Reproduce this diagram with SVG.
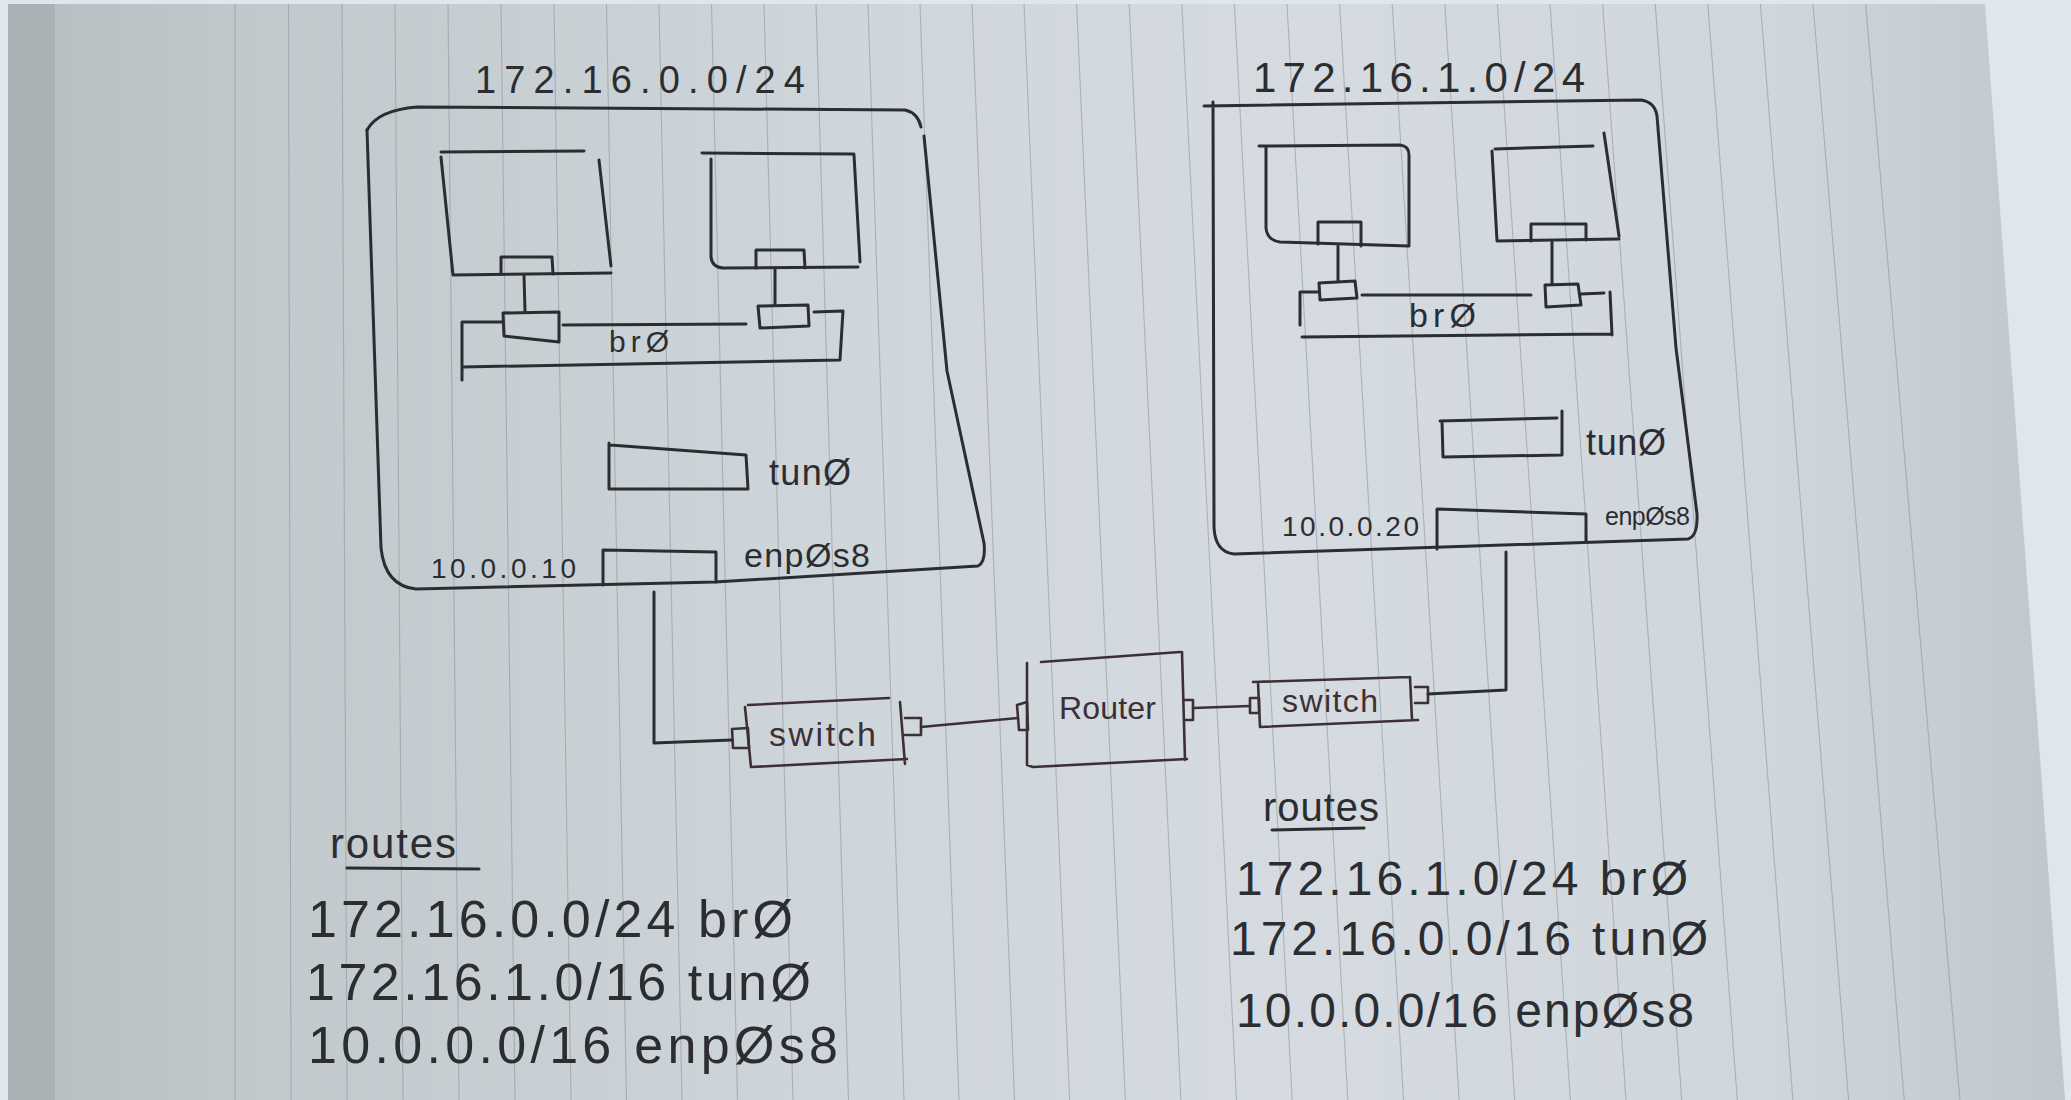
<svg xmlns="http://www.w3.org/2000/svg" width="2071" height="1100" viewBox="0 0 2071 1100">
<defs>
<linearGradient id="paper" gradientUnits="userSpaceOnUse" x1="8" y1="0" x2="2065" y2="0">
<stop offset="0" stop-color="#b6bec1"/>
<stop offset="0.12" stop-color="#c1c9cd"/>
<stop offset="0.4" stop-color="#cfd6db"/>
<stop offset="0.62" stop-color="#d5dbe1"/>
<stop offset="0.86" stop-color="#cfd6dc"/>
<stop offset="1" stop-color="#bfc6cc"/>
</linearGradient>
<style>
.ink{fill:none;stroke:#2c2d31;stroke-width:3;stroke-linecap:round;stroke-linejoin:round}
.red{fill:none;stroke:#3d3034;stroke-width:2.6;stroke-linecap:round;stroke-linejoin:round}
.rule{stroke:#8f989e;stroke-width:1.1;opacity:0.6}
.t{font-family:"Liberation Sans","DejaVu Sans",sans-serif;fill:#2c2d31}
.tr{font-family:"Liberation Sans","DejaVu Sans",sans-serif;fill:#3d3034}
</style>
</defs>
<!-- background -->
<rect x="0" y="0" width="2071" height="1100" fill="#e0e6ee"/>
<polygon points="8,4 1985,4 2065,1100 8,1100" fill="url(#paper)"/>
<rect x="8" y="4" width="47" height="1096" fill="#aab2b5"/>
<g id="rules">
<line class="rule" x1="235" y1="4" x2="235" y2="1100"/>
<line class="rule" x1="288.5" y1="4" x2="291" y2="1100"/>
<line class="rule" x1="342" y1="4" x2="347" y2="1100"/>
<line class="rule" x1="395" y1="4" x2="403" y2="1100"/>
<line class="rule" x1="448" y1="4" x2="459" y2="1100"/>
<line class="rule" x1="501" y1="4" x2="515" y2="1100"/>
<line class="rule" x1="554" y1="4" x2="571" y2="1100"/>
<line class="rule" x1="606.5" y1="4" x2="626.5" y2="1100"/>
<line class="rule" x1="659" y1="4" x2="682" y2="1100"/>
<line class="rule" x1="711.5" y1="4" x2="737.5" y2="1100"/>
<line class="rule" x1="764" y1="4" x2="793" y2="1100"/>
<line class="rule" x1="816" y1="4" x2="848.5" y2="1100"/>
<line class="rule" x1="868" y1="4" x2="904" y2="1100"/>
<line class="rule" x1="920" y1="4" x2="959" y2="1100"/>
<line class="rule" x1="972" y1="4" x2="1014.5" y2="1100"/>
<line class="rule" x1="1024" y1="4" x2="1069.6" y2="1100"/>
<line class="rule" x1="1076.6" y1="4" x2="1125.3" y2="1100"/>
<line class="rule" x1="1129.2" y1="4" x2="1180.9" y2="1100"/>
<line class="rule" x1="1181.8" y1="4" x2="1236.5" y2="1100"/>
<line class="rule" x1="1234.4" y1="4" x2="1292.2" y2="1100"/>
<line class="rule" x1="1287" y1="4" x2="1347.8" y2="1100"/>
<line class="rule" x1="1339.6" y1="4" x2="1403.5" y2="1100"/>
<line class="rule" x1="1392.2" y1="4" x2="1459.1" y2="1100"/>
<line class="rule" x1="1444.8" y1="4" x2="1514.7" y2="1100"/>
<line class="rule" x1="1497.4" y1="4" x2="1570.4" y2="1100"/>
<line class="rule" x1="1550" y1="4" x2="1626" y2="1100"/>
<line class="rule" x1="1602.6" y1="4" x2="1681.7" y2="1100"/>
<line class="rule" x1="1655.2" y1="4" x2="1737.3" y2="1100"/>
<line class="rule" x1="1707.8" y1="4" x2="1792.9" y2="1100"/>
<line class="rule" x1="1760.4" y1="4" x2="1848.6" y2="1100"/>
<line class="rule" x1="1813" y1="4" x2="1904.2" y2="1100"/>
<line class="rule" x1="1865.6" y1="4" x2="1959.9" y2="1100"/>
</g>

<!-- Host 1 -->
<g id="host1">
<text class="t" x="475" y="93" font-size="38" textLength="330" lengthAdjust="spacing">172.16.0.0/24</text>
<path class="ink" d="M367,130 Q378,110 417,107 L905,110 Q918,113 921,127"/>
<path class="ink" d="M924,136 L947,371 L984,543 Q986,562 978,566 L715,582 L416,589 Q385,586 381,548 L367,130"/>
</g>
<g id="host1-vm1">
<path class="ink" d="M441,152 L584,151 M599,160 L611,266 M441,157 L453,275 L611,273"/>
<path class="ink" d="M501,274 L501,257 L552,257 L553,274"/>
</g>
<g id="host1-vm2">
<path class="ink" d="M702,153 L854,154 M854,155 L860,262 M711,159 L711,257 Q712,267 723,268 L858,267"/>
<path class="ink" d="M756,268 L756,250 L804,250 L805,268"/>
</g>
<g id="host1-br0">
<path class="ink" d="M462,380 L462,322 L503,322 M563,325 L746,324 M814,312 L843,311 L840,360 M462,367 L840,360"/>
<path class="ink" d="M503,313 L559,312 L559,342 L504,336 Z"/>
<path class="ink" d="M758,306 L808,305 L809,326 L760,328 Z"/>
<text class="t" x="609" y="352" font-size="30" textLength="60" lengthAdjust="spacing">brØ</text>
</g>
<g id="host1-tun0">
<path class="ink" d="M609,443 L609,489 L748,489 M610,445 L746,455 L748,489"/>
<text class="t" x="769" y="485" font-size="36" textLength="82" lengthAdjust="spacing">tunØ</text>
</g>
<g id="host1-enp0s8">
<path class="ink" d="M603,585 L603,550 L716,552 L716,582"/>
<text class="t" x="744" y="567" font-size="34" textLength="126" lengthAdjust="spacing">enpØs8</text>
<text class="t" x="431" y="578" font-size="28" textLength="145" lengthAdjust="spacing">10.0.0.10</text>
</g>

<!-- Host 2 -->
<g id="host2">
<text class="t" x="1253" y="92" font-size="42" textLength="332" lengthAdjust="spacing">172.16.1.0/24</text>
<path class="ink" d="M1204,106 L1641,100 Q1655,102 1657,116 L1676,348 L1697,514 Q1698,536 1688,539 L1234,554 Q1215,552 1214,527 L1213,102"/>
</g>
<g id="host2-vm1">
<path class="ink" d="M1259,146 L1400,145 Q1409,146 1409,155 L1409,246 L1280,242 Q1267,240 1266,228 L1266,148"/>
<path class="ink" d="M1318,244 L1318,222 L1361,222 L1361,246"/>
</g>
<g id="host2-vm2">
<path class="ink" d="M1495,149 L1593,146 M1604,133 L1619,236 M1492,151 L1497,241 L1619,239"/>
<path class="ink" d="M1531,241 L1531,224 L1586,224 L1586,240"/>
</g>
<g id="host2-br0">
<path class="ink" d="M1300,325 L1300,292 L1319,292 M1362,295 L1531,295 M1581,294 L1604,293 M1610,292 L1612,335 M1302,337 L1612,334"/>
<path class="ink" d="M1319,283 L1355,281 L1357,298 L1320,300 Z"/>
<path class="ink" d="M1545,285 L1578,284 L1581,305 L1546,307 Z"/>
<text class="t" x="1409" y="327" font-size="34" textLength="67" lengthAdjust="spacing">brØ</text>
</g>
<g id="host2-tun0">
<path class="ink" d="M1440,421 L1557,418 M1562,411 L1562,455 L1443,457 L1442,421"/>
<text class="t" x="1586" y="455" font-size="36" textLength="80" lengthAdjust="spacing">tunØ</text>
</g>
<g id="host2-enp0s8">
<path class="ink" d="M1437,549 L1437,509 L1586,514 L1586,541"/>
<text class="t" x="1605" y="525" font-size="25" textLength="85" lengthAdjust="spacing">enpØs8</text>
<text class="t" x="1282" y="536" font-size="28" textLength="137" lengthAdjust="spacing">10.0.0.20</text>
</g>

<!-- Network devices -->
<g id="switch1">
<path class="red" d="M748,705 L889,698 M745,707 L751,767 L907,759 M900,702 L905,764"/>
<path class="red" d="M732,729 L748,728 L749,748 L733,748 Z"/>
<path class="red" d="M905,718 L921,718 L921,735 L905,735"/>
<text class="tr" x="769" y="746" font-size="34" textLength="107" lengthAdjust="spacing">switch</text>
</g>
<g id="router">
<path class="red" d="M1041,662 L1180,652 M1027,663 L1027,765 L1033,767 L1187,759 M1182,652 L1185,760"/>
<path class="red" d="M1017,705 L1027,702 L1028,730 L1019,730 Z"/>
<path class="red" d="M1185,700 L1193,700 L1193,720 L1185,720"/>
<text class="tr" x="1059" y="719" font-size="32" textLength="97" lengthAdjust="spacing">Router</text>
</g>
<g id="switch2">
<path class="red" d="M1253,682 L1410,677 M1258,682 L1260,727 L1418,720 M1410,677 L1412,720"/>
<path class="red" d="M1250,698 L1259,698 L1259,713 L1250,713 Z"/>
<path class="red" d="M1415,687 L1428,687 L1428,703 L1415,703"/>
<text class="tr" x="1282" y="712" font-size="32" textLength="96" lengthAdjust="spacing">switch</text>
</g>

<!-- Connectors -->
<g id="connectors">
<path class="ink" d="M524,275 L525,312"/>
<path class="ink" d="M775,268 L775,305"/>
<path class="ink" d="M1338,246 L1338,281"/>
<path class="ink" d="M1552,242 L1552,284"/>
<path class="ink" d="M654,592 L654,743 L732,740"/>
<path class="red" d="M921,727 L1018,718"/>
<path class="red" d="M1193,708 L1250,706"/>
<path class="ink" d="M1428,694 L1506,690 L1506,552"/>
</g>

<!-- Routes -->
<g id="routes-left">
<text class="t" x="330" y="858" font-size="42" textLength="126" lengthAdjust="spacing">routes</text>
<path class="ink" d="M347,868 L479,869"/>
<text class="t" x="308" y="937" font-size="52" textLength="485" lengthAdjust="spacing">172.16.0.0/24 brØ</text>
<text class="t" x="306" y="1000" font-size="52" textLength="505" lengthAdjust="spacing">172.16.1.0/16 tunØ</text>
<text class="t" x="308" y="1063" font-size="52" textLength="530" lengthAdjust="spacing">10.0.0.0/16 enpØs8</text>
</g>
<g id="routes-right">
<text class="t" x="1263" y="821" font-size="40" textLength="116" lengthAdjust="spacing">routes</text>
<path class="ink" d="M1272,830 L1364,828"/>
<text class="t" x="1236" y="895" font-size="48" textLength="452" lengthAdjust="spacing">172.16.1.0/24 brØ</text>
<text class="t" x="1230" y="955" font-size="48" textLength="478" lengthAdjust="spacing">172.16.0.0/16 tunØ</text>
<text class="t" x="1236" y="1027" font-size="48" textLength="458" lengthAdjust="spacing">10.0.0.0/16 enpØs8</text>
</g>
</svg>
